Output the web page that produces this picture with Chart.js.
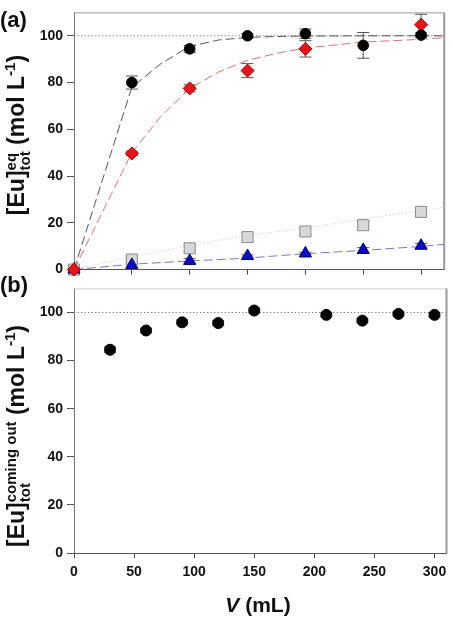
<!DOCTYPE html>
<html>
<head>
<meta charset="utf-8">
<script src="https://cdn.jsdelivr.net/npm/chart.js@4.4.0/dist/chart.umd.min.js"></script>
<style>
html, body { margin: 0; padding: 0; background: #fff; }
body { width: 453px; height: 626px; position: relative; overflow: hidden; font-family: 'Liberation Sans', Arial, sans-serif; }
#wrapA { position: absolute; left: 0; top: 0; width: 453px; height: 282px; }
#wrapB { position: absolute; left: 0; top: 276px; width: 453px; height: 350px; }
.lbl { position: absolute; font-weight: bold; color: #111; white-space: nowrap; }
.panel { font-size: 22px; left: 0; }
.ytitle { font-size: 23px; line-height: 23px; transform: translate(-50%, -50%) rotate(-90deg); }
.ytitle sup { font-size: 15px; vertical-align: 9px; line-height: 0; }
.ss { display: inline-block; font-size: 15px; line-height: 14px; vertical-align: -6px; }
.ss span { display: block; }
.xtitle { font-size: 21px; transform: translate(-50%, -50%); }
</style>
</head>
<body>
<div id="wrapA"><canvas id="chartA"></canvas></div>
<div id="wrapB"><canvas id="chartB"></canvas></div>

<div class="lbl panel" style="top:7px;">(a)</div>
<div class="lbl panel" style="top:272px;">(b)</div>
<div class="lbl ytitle" style="left:18px; top:135px;">[Eu]<span class="ss"><span>eq</span><span>tot</span></span> (mol L<sup>-1</sup>)</div>
<div class="lbl ytitle" style="left:18px; top:436px;">[Eu]<span class="ss"><span>coming out</span><span>tot</span></span> (mol L<sup>-1</sup>)</div>
<div class="lbl xtitle" style="left:258px; top:605px;"><i>V</i> (mL)</div>

<script>
// panel (a): batch volumes and measured [Eu]
var volA = [0, 50, 100, 150, 200, 250, 300];
var blackA = [null, 80, 94.4, 100, 100.9, 95.9, 100.3];
var blackErrA = [0, 2.8, 1.5, 1, 2, 5.5, 1];
var redA = [0, 49.7, 77.5, 85.1, 94.4, null, 104.7];
var redErrA = [0, 1, 1.5, 3, 3.5, 0, 4.5];
var greyA = [0, 4.3, 9.1, 13.9, 16.3, 19.0, 24.7];
var greyErrA = [0, 1.5, 1.5, 2, 1.5, 1.5, 1.5];
var blueA = [0, 2.0, 3.7, 5.8, 6.9, 8.4, 10.2];
var blueErrA = [0, 1, 1, 0.5, 0.5, 1, 1];

// fitted curves
var fitX = [0, 50, 75, 100, 125, 150, 175, 200, 250, 300, 320];
var blackFit = [0, 78, 88, 95.5, 98.2, 99.3, 99.7, 99.9, 100, 100, 100];
var redFit = [0, 50, 65.5, 77.5, 84.5, 89.5, 92.5, 94.8, 97.3, 98.5, 99.2];
var greyFit = [0, 5.4, 7.9, 10.2, 12.5, 14.6, 16.2, 17.6, 21.7, 25.3, 26.7];
var blueFit = [0, 2.3, 3.0, 3.7, 4.3, 4.9, 5.9, 6.8, 8.2, 9.9, 10.8];

// panel (b): coming out
var volB = [30, 60, 90, 120, 150, 210, 240, 270, 300];
var outB = [84.5, 92.5, 95.9, 95.6, 100.8, 99.0, 96.6, 99.4, 99.0];
var outErrB = [1.2, 1, 1, 1, 1, 0.8, 0.8, 0.8, 0.8];

var yMax = 110;
var yStep = 20;
var xStep = 50;
var xMaxA = 320;
var xMaxB = 310;
var fullLevel = 100;

var FONT = "'Liberation Sans', Arial, sans-serif";

function pairs(xs, ys) {
    return xs.map(function (x, i) { return { x: x, y: ys[i] }; });
}

// vertical error bars with caps, drawn under the markers
var errorBars = {
    id: 'errorBars',
    beforeDatasetsDraw: function (chart) {
        var ctx = chart.ctx;
        var ys = chart.scales.y;
        chart.data.datasets.forEach(function (ds, i) {
            if (!ds.errors) return;
            var meta = chart.getDatasetMeta(i);
            ctx.save();
            ctx.strokeStyle = '#555';
            ctx.lineWidth = 1;
            meta.data.forEach(function (pt, j) {
                var v = ds.data[j];
                var e = ds.errors[j];
                if (!e || v.y === null) return;
                var top = ys.getPixelForValue(v.y + e);
                var bot = ys.getPixelForValue(v.y - e);
                ctx.beginPath();
                ctx.moveTo(pt.x, top); ctx.lineTo(pt.x, bot);
                ctx.moveTo(pt.x - 6, top); ctx.lineTo(pt.x + 6, top);
                ctx.moveTo(pt.x - 6, bot); ctx.lineTo(pt.x + 6, bot);
                ctx.stroke();
            });
            ctx.restore();
        });
    }
};

// frame on top/right and dotted 100 % line
var frame = {
    id: 'frame',
    beforeDatasetsDraw: function (chart, args, opts) {
        var ctx = chart.ctx;
        var a = chart.chartArea;
        var y = chart.scales.y.getPixelForValue(fullLevel);
        ctx.save();
        ctx.strokeStyle = '#888';
        ctx.lineWidth = 1;
        ctx.setLineDash([1.5, 2]);
        ctx.beginPath();
        ctx.moveTo(a.left, y); ctx.lineTo(a.right, y);
        ctx.stroke();
        ctx.setLineDash([]);
        ctx.strokeStyle = opts.topColor;
        ctx.beginPath();
        ctx.moveTo(a.left, a.top + 0.5); ctx.lineTo(a.right, a.top + 0.5);
        ctx.stroke();
        ctx.strokeStyle = '#999';
        ctx.lineWidth = 2;
        ctx.beginPath();
        ctx.moveTo(a.right, a.top); ctx.lineTo(a.right, a.bottom);
        ctx.stroke();
        ctx.restore();
    }
};

function yAxis() {
    return {
        type: 'linear',
        min: 0,
        max: yMax,
        afterFit: function (s) { s.width = 74; },
        ticks: { stepSize: yStep, includeBounds: false, padding: 4, color: '#111', font: { family: FONT, size: 14, weight: 'bold' } },
        grid: { drawOnChartArea: false, tickLength: 7, color: '#555' },
        border: { color: '#777', width: 1 }
    };
}

var pointDefaults = { showLine: false, clip: false, borderWidth: 1 };

function scatter(label, data, errs, style, radius, fill, stroke, order) {
    return Object.assign({}, pointDefaults, {
        label: label, data: data, errors: errs, pointStyle: style, pointRadius: radius,
        backgroundColor: fill, borderColor: stroke, order: order
    });
}

function fitLine(data, color, dash, order) {
    return {
        data: data, showLine: true, pointRadius: 0, borderColor: color, borderWidth: 1,
        borderDash: dash, tension: 0, fill: false, order: order
    };
}

new Chart(document.getElementById('chartA'), {
    type: 'scatter',
    data: {
        datasets: [
            fitLine(pairs(fitX, greyFit), '#d9d9d9', [2, 2], 20),
            fitLine(pairs(fitX, blueFit), '#7777cc', [9, 4], 19),
            fitLine(pairs(fitX, redFit), '#e07272', [9, 4], 18),
            fitLine(pairs(fitX, blackFit), '#555', [9, 4], 17),
            scatter('grey', pairs(volA, greyA), greyErrA, 'rect', 7.8, '#d8d8d8', '#8a8a8a', 5),
            scatter('blue', pairs(volA, blueA), blueErrA, 'triangle', 7, '#0b0bc8', '#000066', 4),
            scatter('red', pairs(volA, redA), redErrA, 'rectRot', 6.5, '#e8141b', '#a00000', 3),
            scatter('black', pairs(volA, blackA), blackErrA, 'circle', 5.3, '#000', '#000', 2)
        ]
    },
    options: {
        responsive: true,
        maintainAspectRatio: false,
        animation: false,
        layout: { padding: { left: 0, right: 5, top: 4, bottom: 0 } },
        plugins: { legend: { display: false }, tooltip: { enabled: false }, frame: { topColor: '#999' } },
        scales: {
            x: {
                type: 'linear',
                min: 0,
                max: xMaxA,
                afterFit: function (s) { s.height = 7; },
                ticks: { stepSize: xStep, includeBounds: false, display: false },
                grid: { drawOnChartArea: false, tickLength: 5, color: '#444' },
                border: { color: '#555', width: 1 }
            },
            y: yAxis()
        }
    },
    plugins: [frame, errorBars]
});

new Chart(document.getElementById('chartB'), {
    type: 'scatter',
    data: {
        datasets: [
            scatter('out', pairs(volB, outB), outErrB, 'circle', 5.5, '#000', '#000', 1)
        ]
    },
    options: {
        responsive: true,
        maintainAspectRatio: false,
        animation: false,
        layout: { padding: { left: 0, right: 4, top: 7, bottom: 43 } },
        plugins: { legend: { display: false }, tooltip: { enabled: false }, frame: { topColor: '#ccc' } },
        scales: {
            x: {
                type: 'linear',
                min: 0,
                max: xMaxB,
                afterFit: function (s) { s.height = 30; },
                ticks: { stepSize: xStep, includeBounds: false, padding: 6, maxRotation: 0, color: '#111', font: { family: FONT, size: 14, weight: 'bold' } },
                grid: { drawOnChartArea: false, tickLength: 5, color: '#444' },
                border: { color: '#555', width: 1 }
            },
            y: yAxis()
        }
    },
    plugins: [frame, errorBars]
});
</script>
</body>
</html>
